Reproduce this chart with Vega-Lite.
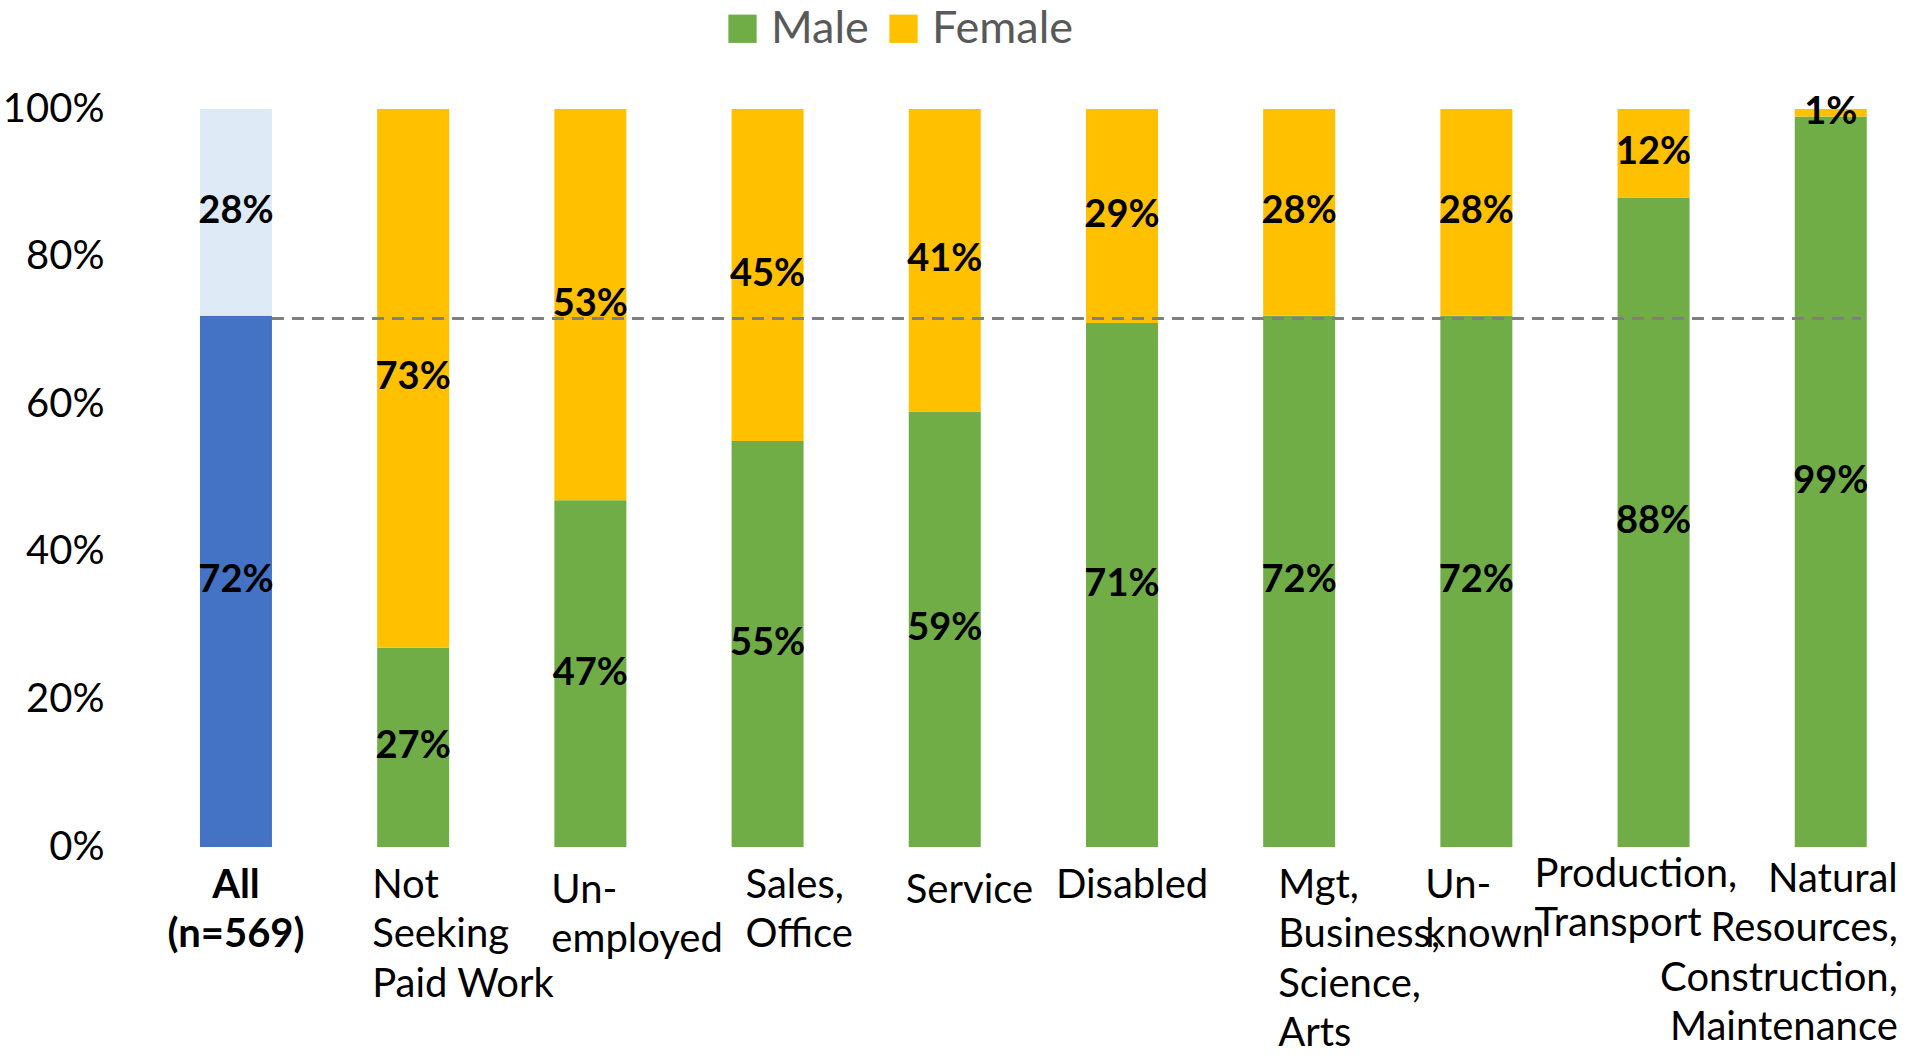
{
  "$schema": "https://vega.github.io/schema/vega-lite/v6.json",
  "width": 1760,
  "height": 738,
  "autosize": {"type": "none"},
  "padding": {"left": 120, "top": 109, "right": 27, "bottom": 212},
  "background": "white",
  "config": {"view": {"stroke": null}, "font": "Lato"},
  "data": {
    "values": [
      {"category": "All", "sex": "Male", "share": 0.72},
      {"category": "All", "sex": "Female", "share": 0.28},
      {"category": "Not Seeking Paid Work", "sex": "Male", "share": 0.27},
      {"category": "Not Seeking Paid Work", "sex": "Female", "share": 0.73},
      {"category": "Un-employed", "sex": "Male", "share": 0.47},
      {"category": "Un-employed", "sex": "Female", "share": 0.53},
      {"category": "Sales, Office", "sex": "Male", "share": 0.55},
      {"category": "Sales, Office", "sex": "Female", "share": 0.45},
      {"category": "Service", "sex": "Male", "share": 0.59},
      {"category": "Service", "sex": "Female", "share": 0.41},
      {"category": "Disabled", "sex": "Male", "share": 0.71},
      {"category": "Disabled", "sex": "Female", "share": 0.29},
      {"category": "Mgt, Business, Science, Arts", "sex": "Male", "share": 0.72},
      {"category": "Mgt, Business, Science, Arts", "sex": "Female", "share": 0.28},
      {"category": "Un-known", "sex": "Male", "share": 0.72},
      {"category": "Un-known", "sex": "Female", "share": 0.28},
      {"category": "Production, Transport", "sex": "Male", "share": 0.88},
      {"category": "Production, Transport", "sex": "Female", "share": 0.12},
      {"category": "Natural Resources, Construction, Maintenance", "sex": "Male", "share": 0.99},
      {"category": "Natural Resources, Construction, Maintenance", "sex": "Female", "share": 0.01}
    ]
  },
  "layer": [
    {
      "transform": [
        {"stack": "share", "groupby": ["category"], "sort": [{"field": "sex", "order": "descending"}], "as": ["y0", "y1"]}
      ],
      "mark": {"type": "bar"},
      "encoding": {
        "x": {
          "field": "category",
          "type": "nominal",
          "scale": {
            "domain": ["All", "Not Seeking Paid Work", "Un-employed", "Sales, Office", "Service", "Disabled", "Mgt, Business, Science, Arts", "Un-known", "Production, Transport", "Natural Resources, Construction, Maintenance"],
            "paddingInner": 0.5937,
            "paddingOuter": 0.263,
            "align": 0.858
          },
          "axis": {
            "title": null,
            "domain": false,
            "ticks": false,
            "grid": false,
            "labelAngle": 0,
            "labelFontSize": 40,
            "labelColor": "black",
            "labelBaseline": "top",
            "labelLineHeight": 49.5,
            "labelLimit": 500,
            "labelOverlap": false,
            "labelExpr": "{'All':['All','(n=569)'],'Not Seeking Paid Work':['Not','Seeking','Paid Work'],'Un-employed':['Un-','employed'],'Sales, Office':['Sales,','Office'],'Service':'Service','Disabled':'Disabled','Mgt, Business, Science, Arts':['Mgt,','Business,','Science,','Arts'],'Un-known':['Un-','known'],'Production, Transport':['Production,','Transport'],'Natural Resources, Construction, Maintenance':['Natural','Resources,','Construction,','Maintenance']}[datum.value]",
            "labelAlign": {
              "condition": [
                {"test": "datum.value === 'All'", "value": "center"},
                {"test": "datum.value === 'Natural Resources, Construction, Maintenance'", "value": "right"}
              ],
              "value": "left"
            },
            "labelFontWeight": {
              "condition": {"test": "datum.value === 'All'", "value": "bold"},
              "value": "normal"
            },
            "labelOffset": {
              "condition": [
                {"test": "datum.value === 'All'", "value": 0},
                {"test": "datum.value === 'Not Seeking Paid Work'", "value": -41},
                {"test": "datum.value === 'Un-employed'", "value": -39},
                {"test": "datum.value === 'Sales, Office'", "value": -22},
                {"test": "datum.value === 'Service'", "value": -39},
                {"test": "datum.value === 'Disabled'", "value": -66},
                {"test": "datum.value === 'Mgt, Business, Science, Arts'", "value": -21},
                {"test": "datum.value === 'Un-known'", "value": -51},
                {"test": "datum.value === 'Production, Transport'", "value": -119}
              ],
              "value": 67
            },
            "labelPadding": {
              "condition": [
                {"test": "datum.value === 'Un-employed' || datum.value === 'Service'", "value": 23},
                {"test": "datum.value === 'Production, Transport'", "value": 7},
                {"test": "datum.value === 'Natural Resources, Construction, Maintenance'", "value": 12}
              ],
              "value": 18
            }
          }
        },
        "y": {
          "field": "y0",
          "type": "quantitative",
          "scale": {"domain": [0, 1], "nice": false},
          "axis": {
            "title": null,
            "values": [0, 0.2, 0.4, 0.6, 0.8, 1],
            "format": ".0%",
            "domain": false,
            "ticks": false,
            "grid": false,
            "labelFontSize": 40,
            "labelColor": "black",
            "labelPadding": 16
          }
        },
        "y2": {"field": "y1"},
        "color": {
          "field": "sex",
          "type": "nominal",
          "scale": {"domain": ["Male", "Female"], "range": ["#70AD47", "#FFC000"]},
          "legend": {
            "orient": "none",
            "legendX": 600,
            "legendY": -103,
            "direction": "horizontal",
            "title": null,
            "symbolType": "square",
            "symbolSize": 800,
            "symbolStrokeWidth": 0,
            "labelFontSize": 45,
            "labelColor": "#595959",
            "labelOffset": 6,
            "columnPadding": 12,
            "values": ["Male", "Female"]
          },
          "condition": [
            {"test": "datum.category === 'All' && datum.sex === 'Male'", "value": "#4472C4"},
            {"test": "datum.category === 'All' && datum.sex === 'Female'", "value": "#DEEBF7"}
          ]
        }
      }
    },
    {
      "data": {"values": [{"overall_male": 0.716}]},
      "mark": {"type": "rule", "strokeDash": [12, 8], "strokeWidth": 3, "color": "#7F7F7F"},
      "encoding": {
        "x": {"datum": "All", "type": "nominal", "bandPosition": 1},
        "x2": {"datum": "Natural Resources, Construction, Maintenance", "bandPosition": 0.92},
        "y": {"field": "overall_male", "type": "quantitative"}
      }
    },
    {
      "transform": [
        {"stack": "share", "groupby": ["category"], "sort": [{"field": "sex", "order": "descending"}], "as": ["y0", "y1"]},
        {"calculate": "(datum.y0 + datum.y1) / 2", "as": "mid"}
      ],
      "mark": {"type": "text", "fontWeight": "bold", "fontSize": 38, "color": "black", "baseline": "middle"},
      "encoding": {
        "x": {"field": "category", "type": "nominal"},
        "y": {"field": "mid", "type": "quantitative"},
        "text": {"field": "share", "type": "quantitative", "format": ".0%"}
      }
    }
  ]
}
